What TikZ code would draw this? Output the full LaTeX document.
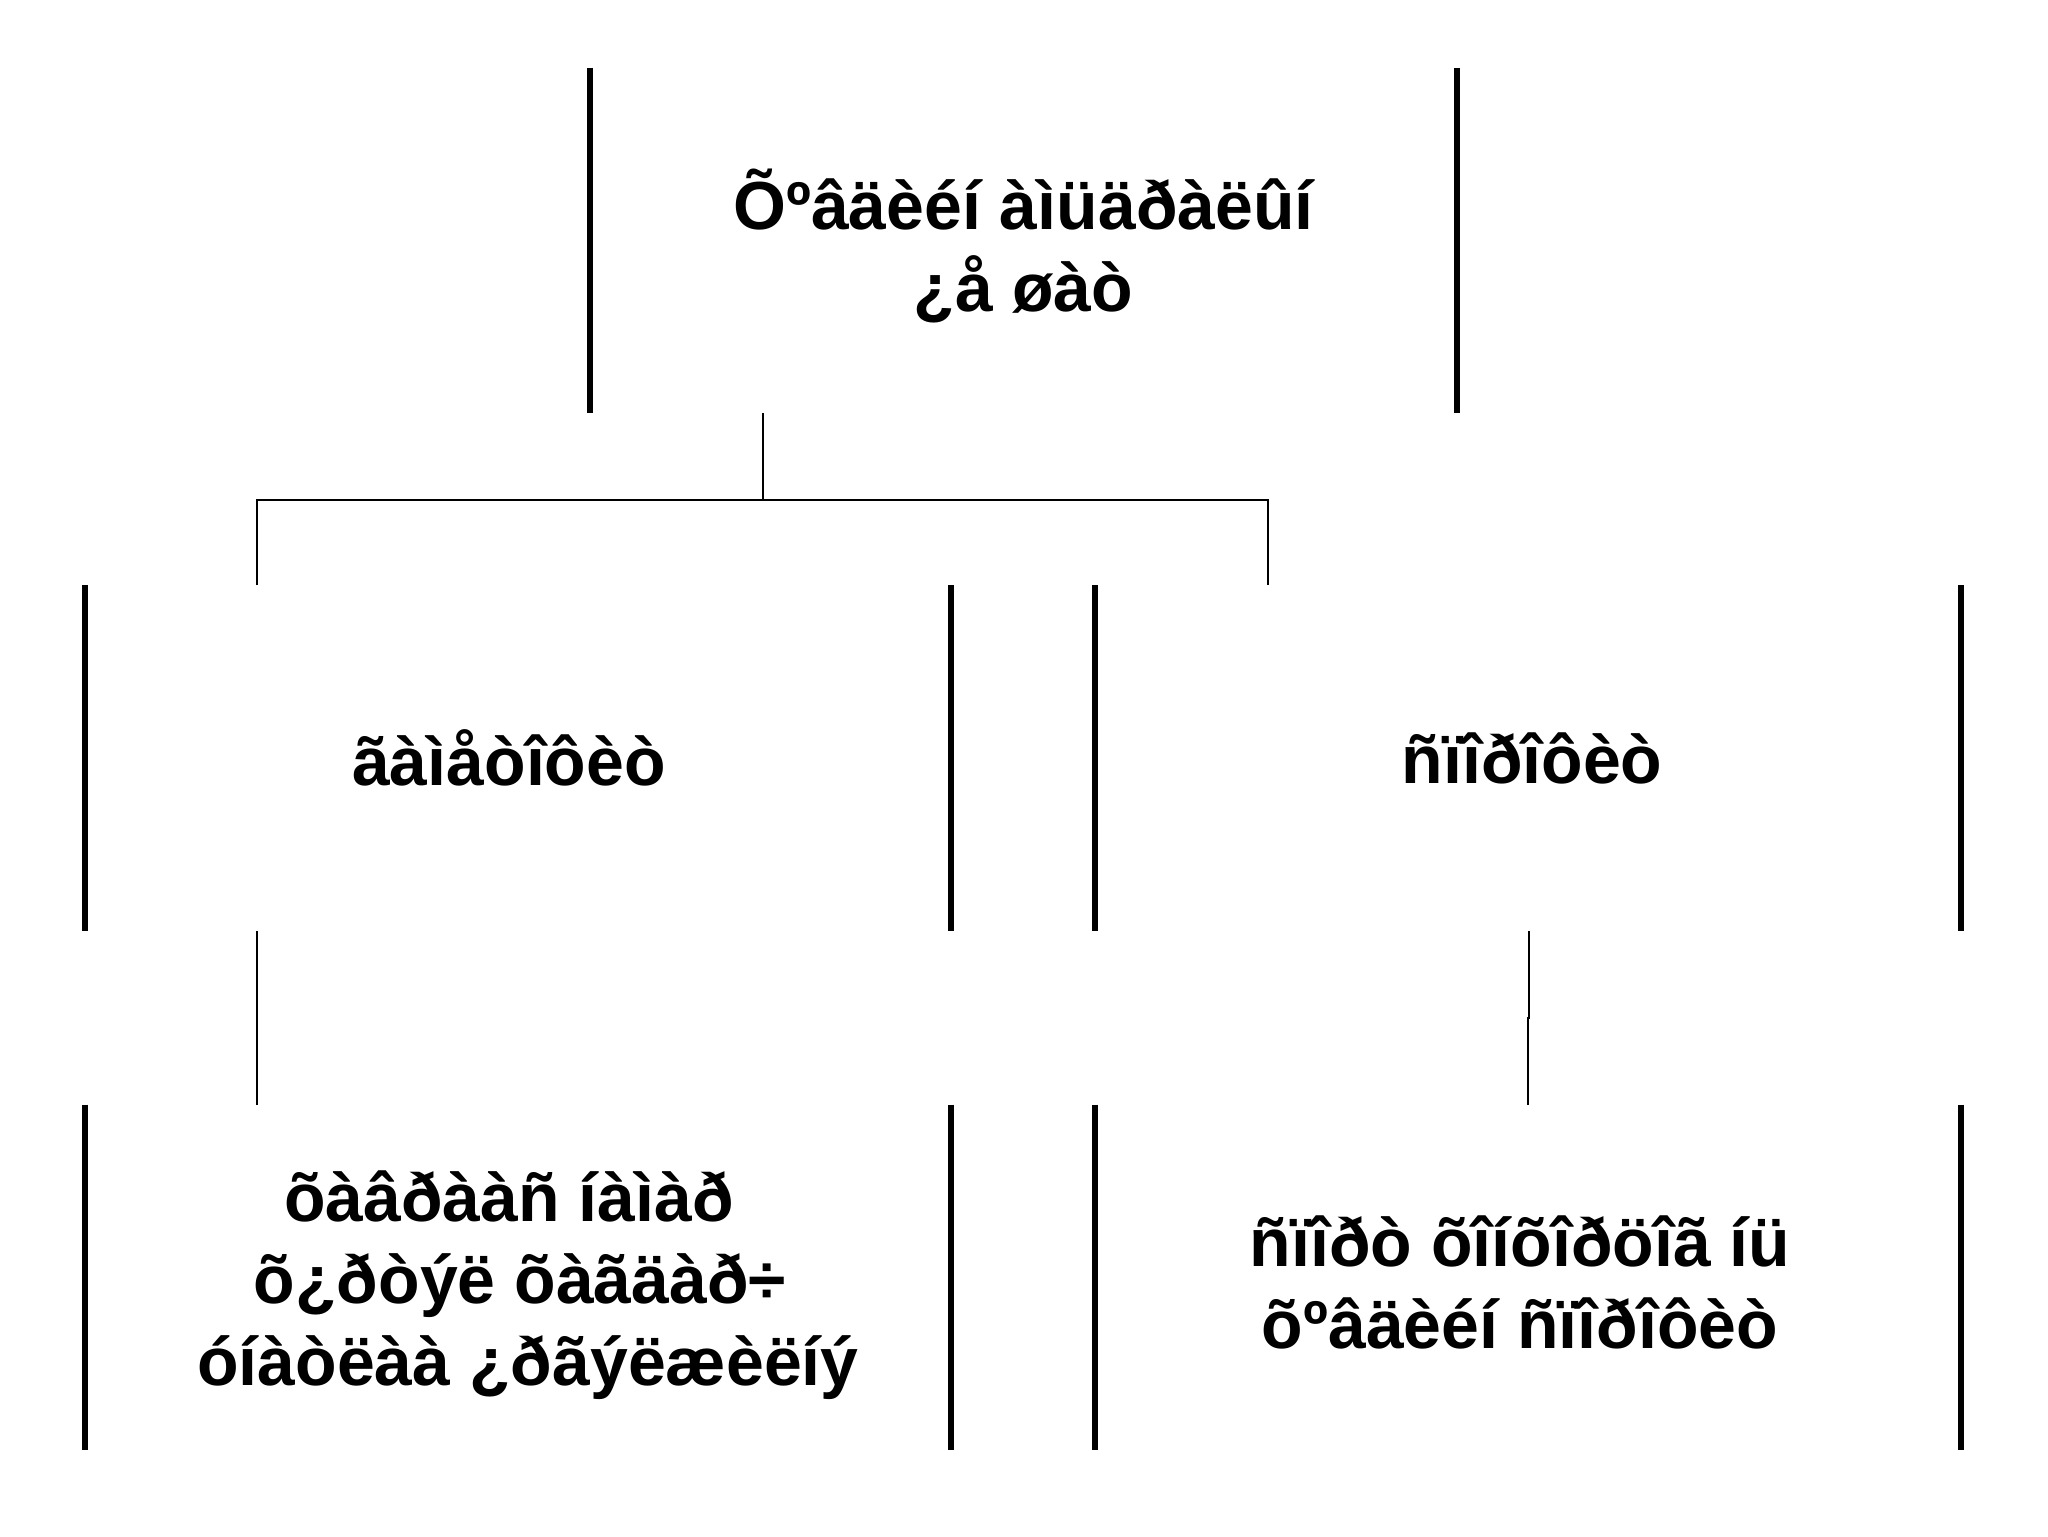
\documentclass[tikz,border=0pt]{standalone}
\usepackage{fontspec}
\setmainfont{Liberation Sans}
\begin{document}
\begin{tikzpicture}[x=0.5pt,y=-0.5pt,
 box/.style={minimum width=433pt, minimum height=172.5pt, inner sep=0pt},
 label/.style={align=center, inner sep=0pt, font=\fontsize{34}{41}\selectfont\bfseries},
 edge/.style={line width=3pt},
 conn/.style={line width=1pt}]
\useasboundingbox (0,0) rectangle (2048,1536);
\fill[white] (0,0) rectangle (2048,1536);
\node[box] (T) at (1023.5,240.5) {};
\node[box] (ML) at (518,758) {};
\node[box] (MR) at (1528,758) {};
\node[box] (BL) at (518,1277.5) {};
\node[box] (BR) at (1528,1277.5) {};
\node[label, yshift=-3pt] (tT) at (T) {Õºâäèéí àìüäðàëûí\\¿å øàò};
\node[label, xshift=-4.5pt] (tML) at (ML) {ãàìåòîôèò};
\node[label, xshift=2pt] (tMR) at (MR) {ñïîðîôèò};
\node[label, yshift=-4pt] (tBL) at (BL) {õàâðààñ íàìàð\hspace*{9pt}\\\hspace*{2pt}õ¿ðòýë õàãäàð÷\\\hspace*{10pt}óíàòëàà ¿ðãýëæèëíý};
\node[label, xshift=-4pt, yshift=-2.5pt] (tBR) at (BR) {ñïîðò õîíõîðöîã íü\\õºâäèéí ñïîðîôèò};
\foreach \n in {T,ML,MR,BL,BR}
  \draw[edge] (\n.north west) -- (\n.south west) (\n.north east) -- (\n.south east);
\coordinate (j) at (763,500);
\coordinate (cl) at (257,500);
\coordinate (cr) at (1268,500);
\draw[conn] (j |- T.south) -- (j);
\draw[conn] (cl |- ML.north) -- (cl) -- (cr) -- (cr |- MR.north);
\draw[conn] (cl |- ML.south) -- (cl |- BL.north);
\coordinate (k) at (1529,1018);
\draw[conn] (MR.south -| k) -- (k) -- ++(-1.5,0) -- (BR.north -| 1527.5,0);
\end{tikzpicture}
\end{document}
